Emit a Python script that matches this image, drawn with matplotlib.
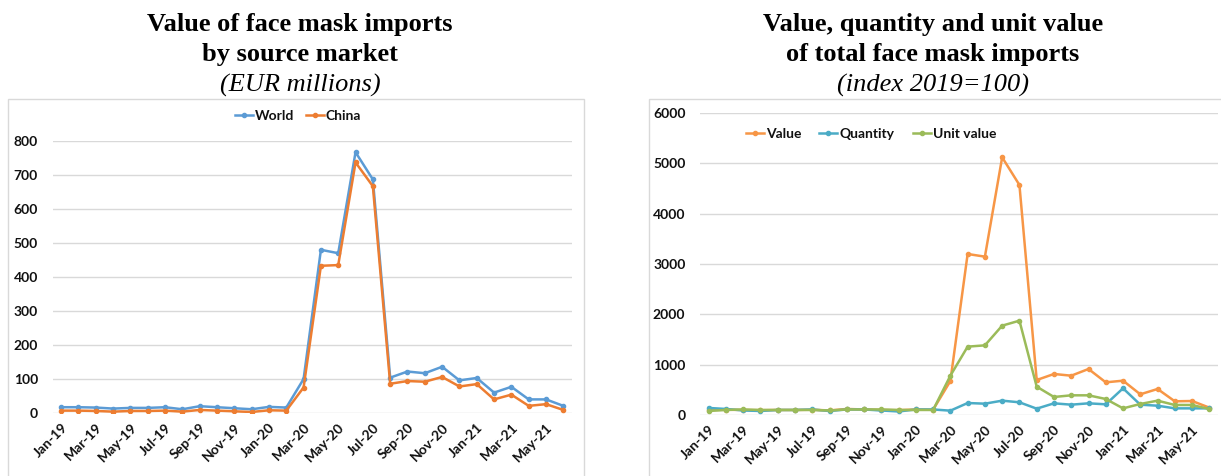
import matplotlib
matplotlib.use("Agg")
import matplotlib.pyplot as plt
from matplotlib.patches import Rectangle

months = ["Jan-19", "Feb-19", "Mar-19", "Apr-19", "May-19", "Jun-19", "Jul-19", "Aug-19",
          "Sep-19", "Oct-19", "Nov-19", "Dec-19", "Jan-20", "Feb-20", "Mar-20", "Apr-20",
          "May-20", "Jun-20", "Jul-20", "Aug-20", "Sep-20", "Oct-20", "Nov-20", "Dec-20",
          "Jan-21", "Feb-21", "Mar-21", "Apr-21", "May-21", "Jun-21"]

world = [17, 17, 16, 13, 15, 15, 17, 11, 20, 17, 14, 11, 18, 16, 100, 480, 470, 767, 687,
         104, 122, 117, 136, 96, 103, 60, 77, 40, 40, 21]
china = [7, 7, 6, 4, 6, 6, 7, 4, 9, 7, 5, 3, 8, 7, 75, 433, 435, 737, 667,
         86, 94, 92, 106, 78, 85, 40, 54, 21, 26, 9]

value_idx = [100, 105, 100, 95, 100, 100, 105, 90, 120, 110, 100, 95, 110, 105, 675, 3199, 3146,
             5119, 4570, 695, 815, 781, 914, 649, 682, 411, 517, 272, 278, 146]
quantity_idx = [140, 120, 90, 80, 100, 100, 110, 80, 110, 110, 90, 70, 110, 110, 86, 238, 225,
                285, 252, 126, 232, 205, 232, 212, 530, 205, 185, 132, 132, 132]
unit_idx = [80, 100, 110, 100, 100, 100, 100, 90, 110, 110, 110, 100, 100, 100, 781, 1358, 1384,
            1775, 1874, 563, 358, 391, 391, 318, 132, 219, 285, 199, 199, 119]

W, H = 1221, 476
fig = plt.figure(figsize=(W / 100, H / 100), dpi=100)

LBL = dict(family=["Lato", "DejaVu Sans"], weight="bold", size=10, color="#111111")
GRID = "#D9D9D9"

# chart-area boxes
fig.patches.append(Rectangle((8 / W, -0.05), (584 - 8) / W, 1.05 - 99 / H,
                             transform=fig.transFigure, fill=False, ec="#D9D9D9", lw=1))
fig.patches.append(Rectangle((649 / W, -0.05), (1240 - 649) / W, 1.05 - 99 / H,
                             transform=fig.transFigure, fill=False, ec="#D9D9D9", lw=1))

def style(ax, ymax, step):
    x = range(len(months))
    ax.set_xlim(-0.5, len(months) - 0.5)
    ax.set_ylim(0, ymax)
    ax.set_yticks(range(0, ymax + 1, step))
    ax.set_xticks(list(x)[::2])
    ax.set_xticklabels(months[::2], rotation=45, ha="right", rotation_mode="anchor", **LBL)
    for t in ax.get_yticklabels():
        t.set(**LBL)
    ax.tick_params(axis="both", length=0)
    ax.tick_params(axis="y", pad=10.5)
    ax.tick_params(axis="x", pad=6)
    for s in ax.spines.values():
        s.set_visible(False)
    ax.grid(axis="y", color=GRID, lw=1)
    ax.set_axisbelow(True)

# left chart
axL = fig.add_axes([52.5 / W, (H - 413) / H, (572 - 52.5) / W, 272 / H])
x = range(len(months))
axL.plot(x, world, color="#5B9BD5", lw=1.8, marker="o", ms=3, label="World")
axL.plot(x, china, color="#ED7D31", lw=1.8, marker="o", ms=3, label="China")
style(axL, 800, 100)
axL.legend(loc="center", bbox_to_anchor=(298 / W, 1 - 116 / H), bbox_transform=fig.transFigure,
           ncol=2, frameon=False, handlelength=1.3, handletextpad=0.15, columnspacing=0.8,
           prop=dict(family="Lato", weight="bold", size=10))

# right chart
axR = fig.add_axes([700 / W, (H - 415) / H, (1218 - 700) / W, (415 - 113) / H])
axR.plot(x, value_idx, color="#F79646", lw=1.8, marker="o", ms=3, label="Value")
axR.plot(x, quantity_idx, color="#4BACC6", lw=1.8, marker="o", ms=3, label="Quantity")
axR.plot(x, unit_idx, color="#9BBB59", lw=1.8, marker="o", ms=3, label="Unit value")
style(axR, 6000, 1000)
axR.legend(loc="center", bbox_to_anchor=(871 / W, 1 - 134 / H), bbox_transform=fig.transFigure,
           ncol=3, frameon=False, handlelength=1.3, handletextpad=0.15, columnspacing=1.3,
           prop=dict(family="Lato", weight="bold", size=10))
for lg in (axL.get_legend(), axR.get_legend()):
    for t in lg.get_texts():
        t.set_color("#111111")

# titles
TF = ["Liberation Serif", "DejaVu Serif"]
for cx, l1, l2, l3 in [(300, "Value of face mask imports", "by source market", "(EUR millions)"),
                       (933, "Value, quantity and unit value", "of total face mask imports",
                        "(index 2019=100)")]:
    fig.text(cx / W, 1 - 25 / H, l1, ha="center", va="center", family=TF, weight="bold", size=19)
    fig.text(cx / W, 1 - 55 / H, l2, ha="center", va="center", family=TF, weight="bold", size=19)
    fig.text(cx / W, 1 - 85 / H, l3, ha="center", va="center", family=TF, style="italic", size=19)

fig.savefig("out.png", dpi=100, facecolor="white")
